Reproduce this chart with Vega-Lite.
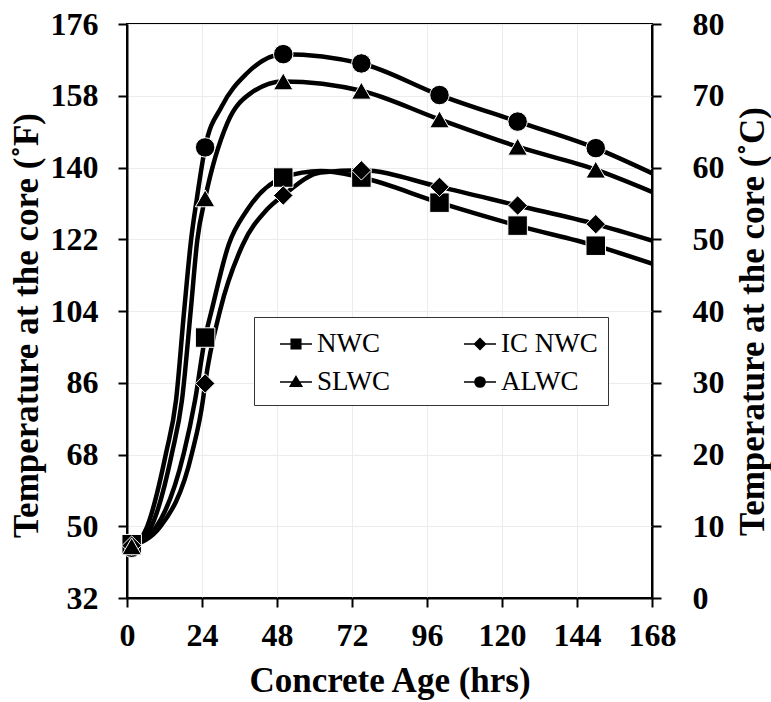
{
  "$schema": "https://vega.github.io/schema/vega-lite/v6.json",
  "width": 525,
  "height": 574,
  "autosize": {"type": "none"},
  "padding": {"left": 127, "top": 24, "right": 119, "bottom": 104},
  "background": "white",
  "config": {
    "font": "Liberation Serif",
    "view": {"stroke": "black", "strokeWidth": 2},
    "axis": {
      "labelFont": "Liberation Serif",
      "labelFontSize": 32,
      "labelFontWeight": "bold",
      "labelColor": "black",
      "labelFlush": false,
      "labelOverlap": false,
      "titleFont": "Liberation Serif",
      "titleFontSize": 35,
      "titleFontWeight": "bold",
      "titleColor": "black",
      "domainColor": "black",
      "domainWidth": 2,
      "tickColor": "black",
      "tickWidth": 2,
      "tickSize": 9,
      "gridColor": "#ececec",
      "gridWidth": 1
    },
    "legend": {
      "labelFont": "Liberation Serif",
      "labelFontSize": 27,
      "labelColor": "black",
      "symbolSize": 1024,
      "symbolOffset": 15,
      "labelOffset": 4,
      "columnPadding": 58,
      "rowPadding": 8,
      "padding": 10,
      "strokeColor": "#333333",
      "fillColor": "white"
    }
  },
  "datasets": {
    "curves": [
      {"series": "ALWC", "hrs": 1.5, "temp": 7.0},
      {"series": "ALWC", "hrs": 6.4, "temp": 9.9},
      {"series": "ALWC", "hrs": 12.5, "temp": 20.2},
      {"series": "ALWC", "hrs": 15.7, "temp": 27.6},
      {"series": "ALWC", "hrs": 18.3, "temp": 40.1},
      {"series": "ALWC", "hrs": 20.5, "temp": 49.9},
      {"series": "ALWC", "hrs": 22.3, "temp": 55.5},
      {"series": "ALWC", "hrs": 25, "temp": 62.8},
      {"series": "ALWC", "hrs": 30.3, "temp": 68.5},
      {"series": "ALWC", "hrs": 38.3, "temp": 73.1},
      {"series": "ALWC", "hrs": 50, "temp": 75.8},
      {"series": "ALWC", "hrs": 75, "temp": 74.5},
      {"series": "ALWC", "hrs": 100, "temp": 70.1},
      {"series": "ALWC", "hrs": 125, "temp": 66.4},
      {"series": "ALWC", "hrs": 150, "temp": 62.7},
      {"series": "ALWC", "hrs": 168, "temp": 59.2},
      {"series": "SLWC", "hrs": 1.5, "temp": 7.2},
      {"series": "SLWC", "hrs": 7.7, "temp": 9.9},
      {"series": "SLWC", "hrs": 14.4, "temp": 20.2},
      {"series": "SLWC", "hrs": 17.6, "temp": 27.6},
      {"series": "SLWC", "hrs": 20.4, "temp": 40.1},
      {"series": "SLWC", "hrs": 22.5, "temp": 49.9},
      {"series": "SLWC", "hrs": 25, "temp": 55.7},
      {"series": "SLWC", "hrs": 32.1, "temp": 66.2},
      {"series": "SLWC", "hrs": 39.4, "temp": 70.3},
      {"series": "SLWC", "hrs": 50, "temp": 72.0},
      {"series": "SLWC", "hrs": 75, "temp": 70.7},
      {"series": "SLWC", "hrs": 100, "temp": 66.7},
      {"series": "SLWC", "hrs": 125, "temp": 62.9},
      {"series": "SLWC", "hrs": 150, "temp": 59.7},
      {"series": "SLWC", "hrs": 168, "temp": 56.6},
      {"series": "NWC", "hrs": 1.5, "temp": 7.5},
      {"series": "NWC", "hrs": 9.3, "temp": 9.9},
      {"series": "NWC", "hrs": 18.2, "temp": 20.2},
      {"series": "NWC", "hrs": 21.8, "temp": 27.6},
      {"series": "NWC", "hrs": 25, "temp": 36.3},
      {"series": "NWC", "hrs": 27.1, "temp": 40.1},
      {"series": "NWC", "hrs": 32.5, "temp": 49.2},
      {"series": "NWC", "hrs": 38.5, "temp": 54.1},
      {"series": "NWC", "hrs": 50, "temp": 58.6},
      {"series": "NWC", "hrs": 62, "temp": 59.5},
      {"series": "NWC", "hrs": 75, "temp": 58.6},
      {"series": "NWC", "hrs": 100, "temp": 55.1},
      {"series": "NWC", "hrs": 125, "temp": 51.9},
      {"series": "NWC", "hrs": 150, "temp": 49.1},
      {"series": "NWC", "hrs": 168, "temp": 46.6},
      {"series": "IC NWC", "hrs": 1.5, "temp": 7.3},
      {"series": "IC NWC", "hrs": 10.6, "temp": 9.9},
      {"series": "IC NWC", "hrs": 20.8, "temp": 20.2},
      {"series": "IC NWC", "hrs": 24.3, "temp": 27.6},
      {"series": "IC NWC", "hrs": 25, "temp": 29.9},
      {"series": "IC NWC", "hrs": 29.8, "temp": 40.1},
      {"series": "IC NWC", "hrs": 37, "temp": 49.2},
      {"series": "IC NWC", "hrs": 44.7, "temp": 54.1},
      {"series": "IC NWC", "hrs": 50, "temp": 56.1},
      {"series": "IC NWC", "hrs": 62, "temp": 59.3},
      {"series": "IC NWC", "hrs": 75, "temp": 59.6},
      {"series": "IC NWC", "hrs": 100, "temp": 57.3},
      {"series": "IC NWC", "hrs": 125, "temp": 54.7},
      {"series": "IC NWC", "hrs": 150, "temp": 52.1},
      {"series": "IC NWC", "hrs": 168, "temp": 49.8}
    ],
    "markers": [
      {"series": "ALWC", "hrs": 1.5, "temp": 7.0},
      {"series": "ALWC", "hrs": 25, "temp": 62.8},
      {"series": "ALWC", "hrs": 50, "temp": 75.8},
      {"series": "ALWC", "hrs": 75, "temp": 74.5},
      {"series": "ALWC", "hrs": 100, "temp": 70.1},
      {"series": "ALWC", "hrs": 125, "temp": 66.4},
      {"series": "ALWC", "hrs": 150, "temp": 62.7},
      {"series": "NWC", "hrs": 1.5, "temp": 7.5},
      {"series": "NWC", "hrs": 25, "temp": 36.3},
      {"series": "NWC", "hrs": 50, "temp": 58.6},
      {"series": "NWC", "hrs": 75, "temp": 58.6},
      {"series": "NWC", "hrs": 100, "temp": 55.1},
      {"series": "NWC", "hrs": 125, "temp": 51.9},
      {"series": "NWC", "hrs": 150, "temp": 49.1},
      {"series": "IC NWC", "hrs": 1.5, "temp": 7.3},
      {"series": "IC NWC", "hrs": 25, "temp": 29.9},
      {"series": "IC NWC", "hrs": 50, "temp": 56.1},
      {"series": "IC NWC", "hrs": 75, "temp": 59.6},
      {"series": "IC NWC", "hrs": 100, "temp": 57.3},
      {"series": "IC NWC", "hrs": 125, "temp": 54.7},
      {"series": "IC NWC", "hrs": 150, "temp": 52.1},
      {"series": "SLWC", "hrs": 1.5, "temp": 7.2},
      {"series": "SLWC", "hrs": 25, "temp": 55.7},
      {"series": "SLWC", "hrs": 50, "temp": 72.0},
      {"series": "SLWC", "hrs": 75, "temp": 70.7},
      {"series": "SLWC", "hrs": 100, "temp": 66.7},
      {"series": "SLWC", "hrs": 125, "temp": 62.9},
      {"series": "SLWC", "hrs": 150, "temp": 59.7}
    ]
  },
  "layer": [
    {
      "data": {"name": "curves"},
      "mark": {"type": "line", "interpolate": "monotone", "color": "black", "strokeWidth": 4.5, "clip": true},
      "encoding": {
        "x": {
          "field": "hrs", "type": "quantitative",
          "scale": {"domain": [0, 168], "nice": false},
          "axis": {"values": [0, 24, 48, 72, 96, 120, 144, 168], "title": "Concrete Age (hrs)", "labelPadding": 13, "titlePadding": 12, "grid": true}
        },
        "y": {
          "field": "temp", "type": "quantitative",
          "scale": {"domain": [0, 80], "nice": false},
          "axis": {
            "orient": "left",
            "values": [0, 10, 20, 30, 40, 50, 60, 70, 80],
            "labelExpr": "format(datum.value * 1.8 + 32, 'd')",
            "title": "Temperature at the core (˚F)",
            "labelPadding": 20,
            "titlePadding": 6,
            "titleY": 301,
            "grid": true
          }
        },
        "detail": {"field": "series"}
      }
    },
    {
      "data": {"name": "markers"},
      "mark": {"type": "point", "filled": true, "fill": "black", "stroke": "white", "strokeWidth": 1, "opacity": 1, "fillOpacity": 1, "size": 380},
      "encoding": {
        "x": {"field": "hrs", "type": "quantitative"},
        "y": {
          "field": "temp", "type": "quantitative",
          "axis": {
            "orient": "right",
            "values": [0, 10, 20, 30, 40, 50, 60, 70, 80],
            "title": "Temperature at the core (˚C)",
            "titleAngle": -90,
            "titleX": 100,
            "titleY": 297,
            "titleAlign": "center",
            "titleBaseline": "middle",
            "labelPadding": 31,
            "grid": false
          }
        },
        "shape": {
          "field": "series", "type": "nominal",
          "scale": {"domain": ["NWC", "IC NWC", "SLWC", "ALWC"], "range": ["square", "diamond", "triangle-up", "circle"]},
          "legend": null
        }
      }
    },
    {
      "data": {"name": "markers"},
      "mark": {"type": "point", "filled": true, "fill": "black", "stroke": "black", "strokeWidth": 3, "opacity": 1, "size": 1024, "yOffset": 3000, "clip": true},
      "encoding": {
        "x": {"field": "hrs", "type": "quantitative"},
        "y": {"field": "temp", "type": "quantitative", "axis": null},
        "shape": {
          "field": "series", "type": "nominal",
          "scale": {
            "domain": ["NWC", "IC NWC", "SLWC", "ALWC"],
            "range": [
              "M-1,0H1M-0.3,-0.3H0.3V0.3H-0.3Z",
              "M-1,0H1M0,-0.34L0.34,0L0,0.34L-0.34,0Z",
              "M-1,0H1M0,-0.34L0.36,0.26L-0.36,0.26Z",
              "M-1,0H1M-0.32,0A0.32,0.32 0 1 0 0.32,0A0.32,0.32 0 1 0 -0.32,0Z"
            ]
          },
          "legend": {
            "title": null,
            "orient": "none",
            "legendX": 127,
            "legendY": 293,
            "columns": 2,
            "direction": "horizontal"
          }
        }
      }
    }
  ],
  "resolve": {"axis": {"y": "independent"}, "scale": {"shape": "independent"}}
}
